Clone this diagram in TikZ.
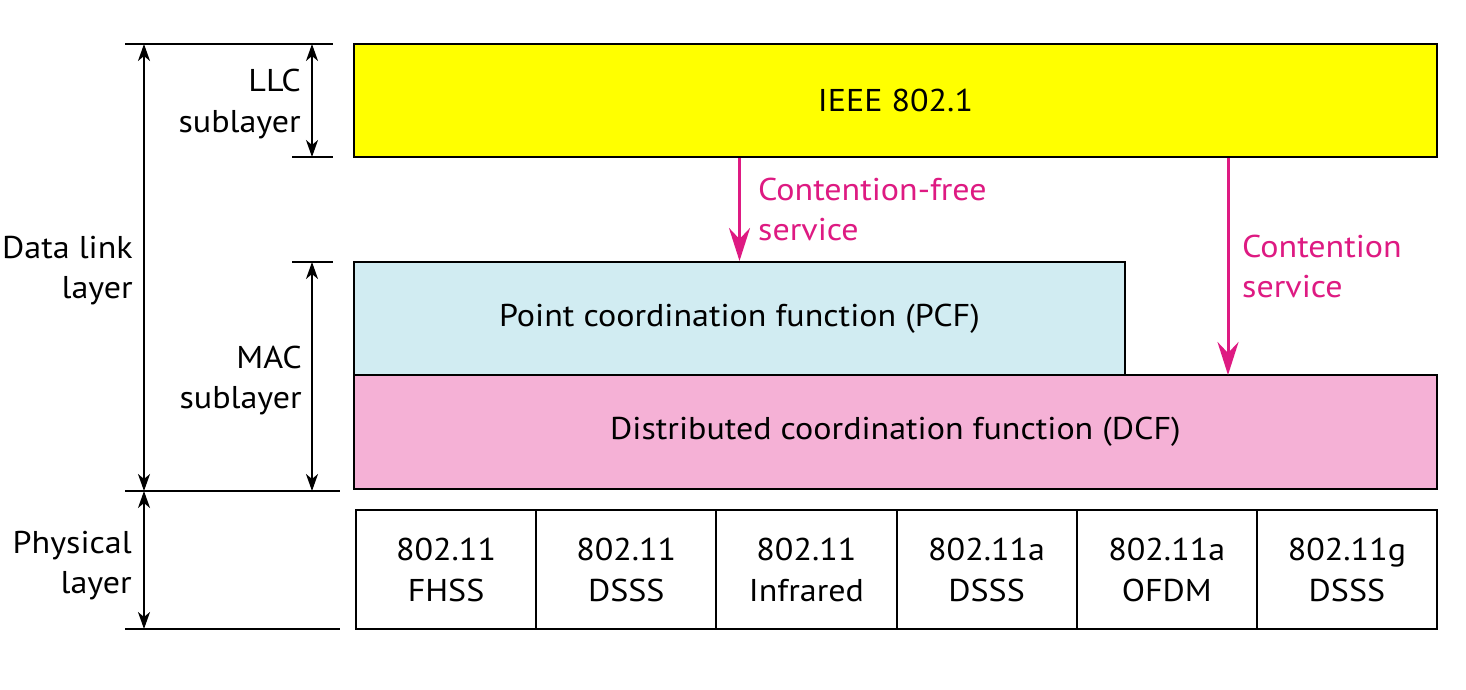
\documentclass[tikz,border=0pt]{standalone}
\usepackage{fontspec}
\setmainfont{PT Sans}[FakeStretch=1.08]
\usetikzlibrary{arrows.meta}
\definecolor{llcyellow}{HTML}{FFFF00}
\definecolor{pcfblue}{HTML}{D1ECF2}
\definecolor{dcfpink}{HTML}{F5B1D6}
\definecolor{svcmag}{HTML}{DE1A82}
\begin{document}
\begin{tikzpicture}[x=1pt,y=-1pt,
  txt/.style={font=\fontsize{31.5}{40}\selectfont, inner sep=0pt},
  box/.style={draw=black, line width=2pt, inner sep=0pt, align=center,
              font=\fontsize{31.5}{41}\selectfont},
  tick/.style={line width=1.6pt},
  dimarrow/.style={line width=1.6pt,
      {Stealth[length=17pt,width=12pt,inset=5pt]}-{Stealth[length=17pt,width=12pt,inset=5pt]}},
  svcarrow/.style={draw=svcmag, line width=3pt,
      -{Stealth[length=33pt,width=21pt,inset=11pt]}},
  svctext/.style={txt, text=svcmag, align=left, anchor=base west},
  sidetext/.style={txt, align=right, anchor=base east}]
\useasboundingbox[fill=white] (0,0) rectangle (1466,690);

% main boxes
\node[box, fill=llcyellow, minimum width=1083pt, minimum height=113pt] (ieee) at (895.5,100.5) {IEEE 802.1};
\node[box, fill=pcfblue, minimum width=771pt, minimum height=113pt] (pcf) at (739.5,318.5) {Point coordination function (PCF)};
\node[box, fill=dcfpink, minimum width=1083pt, minimum height=114pt] (dcf) at (895.5,432) {Distributed coordination function (DCF)};

% physical layer boxes
\foreach \i/\t in {0/{802.11\\FHSS},1/{802.11\\DSSS},2/{802.11\\Infrared},3/{802.11a\\DSSS},4/{802.11a\\OFDM},5/{802.11g\\DSSS}}{
  \node[box, minimum width=180.17pt, minimum height=119pt] (p\i) at ({446.08+\i*180.17},569.5) {\t};
}

% service arrows
\coordinate (cfs) at (ieee.south -| pcf.north);
\coordinate (cse) at (1228,375);
\coordinate (css) at (ieee.south -| cse);
\draw[svcarrow] (cfs) -- (pcf.north);
\draw[svcarrow] (css) -- (cse);
\node[svctext] (cflabel) at (758,240) {Contention-free\\service};
\node[svctext] (cslabel) at (1242,297) {Contention\\service};

% left dimension lines
\coordinate (t0) at (125,44);  \coordinate (t1) at (333,44);
\coordinate (l0) at (292,157); \coordinate (l1) at (333,157);
\coordinate (m0) at (292,262); \coordinate (m1) at (333,262);
\coordinate (b0) at (125,491); \coordinate (b1) at (340,491);
\coordinate (e0) at (125,629); \coordinate (e1) at (340,629);
\draw[tick] (t0) -- (t1);
\draw[tick] (l0) -- (l1);
\draw[tick] (m0) -- (m1);
\draw[tick] (b0) -- (b1);
\draw[tick] (e0) -- (e1);

\coordinate (dlT) at (144,44);  \coordinate (dlB) at (144,491);
\coordinate (llT) at (312,44);  \coordinate (llB) at (312,157);
\coordinate (maT) at (312,262); \coordinate (maB) at (312,491);
\coordinate (phT) at (144,491); \coordinate (phB) at (144,629);
\draw[dimarrow] (dlT) -- (dlB);
\draw[dimarrow] (llT) -- (llB);
\draw[dimarrow] (maT) -- (maB);
\draw[dimarrow] (phT) -- (phB);

\node[sidetext] (llc) at (301,132) {LLC\\sublayer};
\node[sidetext] (dll) at (133,298) {Data link\\layer};
\node[sidetext] (mac) at (302,408) {MAC\\sublayer};
\node[sidetext] (phy) at (132,593) {Physical\\layer};
\end{tikzpicture}
\end{document}
